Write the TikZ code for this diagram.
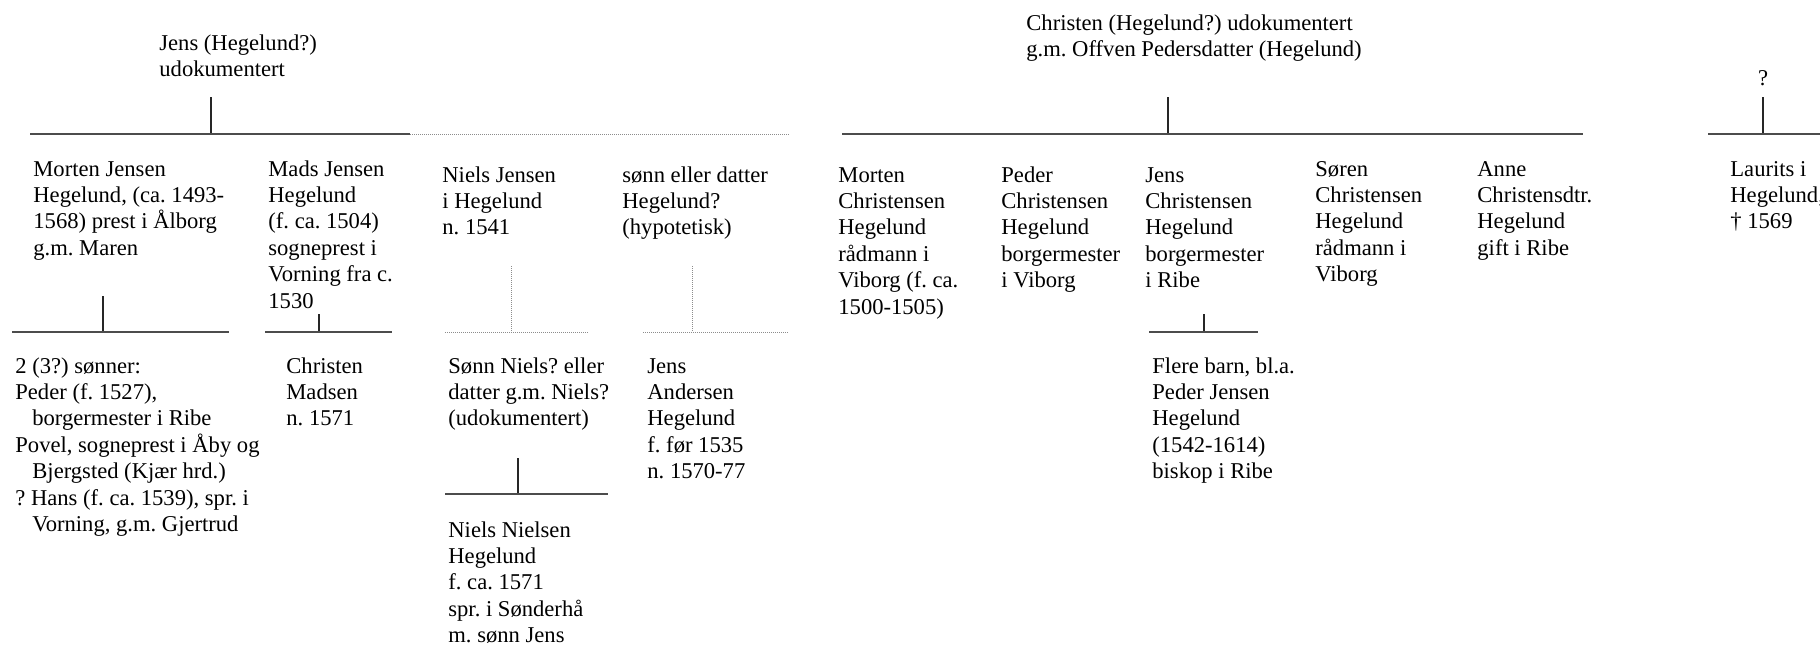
\documentclass[tikz,border=0pt]{standalone}
\usepackage{fontspec}
\setmainfont{Liberation Serif}
\usetikzlibrary{calc}
\frenchspacing
\newcommand{\ind}{\hspace*{8.5pt}}
\newcommand{\rows}[1]{\begin{tabular}[t]{@{}l@{}}#1\end{tabular}}

\tikzset{
  person/.style={anchor=base west, inner sep=0pt,
    font=\fontsize{11.3}{13.2}\selectfont\frenchspacing},
  bar/.style={draw=black!70, line width=0.8pt},
  drop/.style={draw=black!85, line width=0.6pt},
  guess/.style={draw=black!45, line width=0.5pt, dash pattern=on 0.5pt off 0.5pt},
}

\begin{document}
\begin{tikzpicture}[x=0.5pt, y=-0.5pt]
			%%%%% FRAME %%%%%
			\useasboundingbox (0,0) rectangle (1820,645);
			
			%%%%% PARENTS %%%%%
			\node[person] (jens) at (159,50) {\rows{Jens (Hegelund?)\\udokumentert}};
			\node[person] (christen) at (1026,30) {\rows{Christen (Hegelund?) udokumentert\\g.m. Offven Pedersdatter (Hegelund)}};
			\node[person, anchor=base] (ukjent) at (1763,85) {?};
			
			%%%%% CHILDREN OF JENS %%%%%
			\node[person] (morten) at (33,176) {\rows{Morten Jensen\\Hegelund, (ca. 1493-\\1568) prest i Ålborg\\g.m. Maren}};
			\node[person] (mads) at (268,176) {\rows{Mads Jensen\\Hegelund\\(f. ca. 1504)\\sogneprest i\\Vorning fra c.\\1530}};
			\node[person] (niels) at (442,182) {\rows{Niels Jensen\\i Hegelund\\n. 1541}};
			\node[person] (hypo) at (622,182) {\rows{sønn eller datter\\Hegelund?\\(hypotetisk)}};
			
			%%%%% GRANDCHILDREN %%%%%
			\node[person] (mortenbarn) at (15,373) {\rows{2 (3?) sønner:\\Peder (f. 1527),\\\ind borgermester i Ribe\\Povel, sogneprest i Åby og\\\ind Bjergsted (Kjær hrd.)\\? Hans (f. ca. 1539), spr. i\\\ind Vorning, g.m. Gjertrud}};
			\node[person] (christenm) at (286,373) {\rows{Christen\\Madsen\\n. 1571}};
			\node[person] (sonniels) at (448,373) {\rows{Sønn Niels? eller\\datter g.m. Niels?\\(udokumentert)}};
			\node[person] (jensand) at (647,373) {\rows{Jens\\Andersen\\Hegelund\\f. før 1535\\n. 1570-77}};
			\node[person] (nielsn) at (448,537) {\rows{Niels Nielsen\\Hegelund\\f. ca. 1571\\spr. i Sønderhå\\m. sønn Jens}};
			
			%%%%% CHILDREN OF CHRISTEN %%%%%
			\node[person] (mortenc) at (838,182) {\rows{Morten\\Christensen\\Hegelund\\rådmann i\\Viborg (f. ca.\\1500-1505)}};
			\node[person] (pederc) at (1001,182) {\rows{Peder\\Christensen\\Hegelund\\borgermester\\i Viborg}};
			\node[person] (jensc) at (1145,182) {\rows{Jens\\Christensen\\Hegelund\\borgermester\\i Ribe}};
			\node[person] (sorenc) at (1315,176) {\rows{Søren\\Christensen\\Hegelund\\rådmann i\\Viborg}};
			\node[person] (annec) at (1477,176) {\rows{Anne\\Christensdtr.\\Hegelund\\gift i Ribe}};
			\node[person] (jensbarn) at (1152,373) {\rows{Flere barn, bl.a.\\Peder Jensen\\Hegelund\\(1542-1614)\\biskop i Ribe}};
			\node[person] (laurits) at (1730,176) {\rows{Laurits i\\Hegelund,\\† 1569}};
			
			%%%%% LINE POINTS %%%%%
			\coordinate (jensT) at (211,97);     \coordinate (jensL) at (30,134);
			\coordinate (jensM) at (410,134);    \coordinate (jensR) at (790,134);
			\coordinate (mortenT) at (103,296);  \coordinate (mortenL) at (12,332);   \coordinate (mortenR) at (229,332);
			\coordinate (madsT) at (319,314);    \coordinate (madsL) at (265,332);    \coordinate (madsR) at (392,332);
			\coordinate (nielsT) at (511,266);   \coordinate (nielsL) at (445,332);   \coordinate (nielsR) at (589,332);
			\coordinate (hypoT) at (692,266);    \coordinate (hypoL) at (643,332);    \coordinate (hypoR) at (788,332);
			\coordinate (sonT) at (518,458);     \coordinate (sonL) at (445,494);     \coordinate (sonR) at (608,494);
			\coordinate (christenT) at (1168,97); \coordinate (christenL) at (842,134); \coordinate (christenR) at (1583,134);
			\coordinate (jenscT) at (1204,314);  \coordinate (jenscL) at (1149,332);  \coordinate (jenscR) at (1258,332);
			\coordinate (ukjentT) at (1763,97);  \coordinate (ukjentL) at (1708,134); \coordinate (ukjentR) at (1820,134);
			
			%%%%% LINES %%%%%
			\draw[drop] (jensT) -- (jensT |- jensL);
			\draw[bar] (jensL) -- (jensM);
			\draw[guess] (jensM) -- (jensR);
			
			\draw[drop] (mortenT) -- (mortenT |- mortenL);
			\draw[bar] (mortenL) -- (mortenR);
			
			\draw[drop] (madsT) -- (madsT |- madsL);
			\draw[bar] (madsL) -- (madsR);
			
			\draw[guess] (nielsT) -- (nielsT |- nielsL);
			\draw[guess] (nielsL) -- (nielsR);
			
			\draw[guess] (hypoT) -- (hypoT |- hypoL);
			\draw[guess] (hypoL) -- (hypoR);
			
			\draw[drop] (sonT) -- (sonT |- sonL);
			\draw[bar] (sonL) -- (sonR);
			
			\draw[drop] (christenT) -- (christenT |- christenL);
			\draw[bar] (christenL) -- (christenR);
			
			\draw[drop] (jenscT) -- (jenscT |- jenscL);
			\draw[bar] (jenscL) -- (jenscR);
			
			\draw[drop] (ukjentT) -- (ukjentT |- ukjentL);
			\draw[bar] (ukjentL) -- (ukjentR);
			
			%%%%% END %%%%%
\end{tikzpicture}
\end{document}
